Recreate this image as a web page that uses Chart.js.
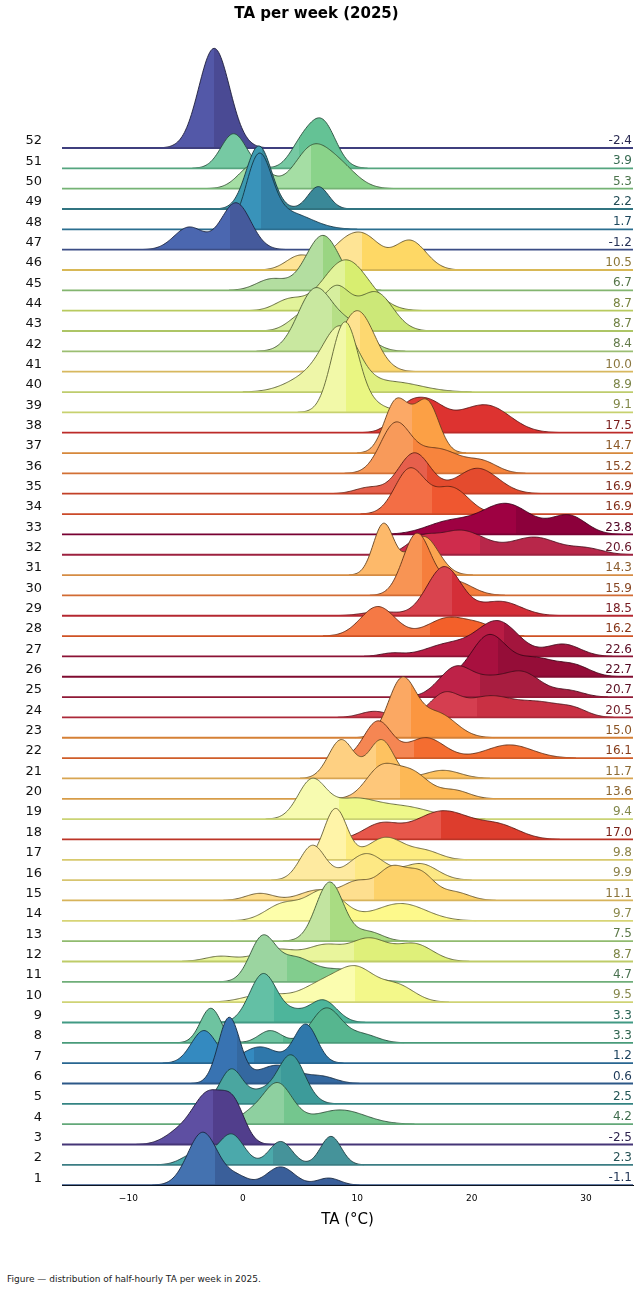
<!DOCTYPE html>
<html><head><meta charset="utf-8">
<script src="https://cdn.jsdelivr.net/npm/chart.js@4.4.1/dist/chart.umd.min.js"></script>
<style>
html,body{margin:0;padding:0;background:#fff;font-family:"DejaVu Sans",sans-serif;}
#wrap{position:relative;width:639px;height:1252px;}
#cap{position:absolute;left:7px;top:1274px;font-size:9px;color:#222;font-family:"DejaVu Sans",sans-serif;}
</style></head><body>
<div id="wrap"><canvas id="c"></canvas></div>
<div id="cap">Figure — distribution of half-hourly TA per week in 2025.</div>
<script>
// ---- data (week 1 .. 52) ----
const weeks = Array.from({length:52},(_,i)=>i+1);
const means = [-1.1,2.3,-2.5,4.2,2.5,0.6,1.2,3.3,3.3,9.5,4.7,8.7,7.5,9.7,11.1,9.9,9.8,17.0,9.4,13.6,
  11.7,16.1,15.0,20.5,20.7,22.7,22.6,16.2,18.5,15.9,14.3,20.6,23.8,16.9,16.9,15.2,14.7,17.5,9.1,8.9,
  10.0,8.4,8.7,8.7,6.7,10.5,-1.2,1.7,2.2,5.3,3.9,-2.4];
const splits = [-2.4,2.6,-2.6,3.6,3.3,-0.5,1.0,3.5,2.7,9.8,3.9,9.7,7.6,7.6,11.5,9.8,9.0,17.3,8.4,13.7,
  11.6,15.0,14.7,20.5,20.7,22.3,22.8,16.4,18.3,15.7,14.5,20.7,23.9,16.5,16.1,14.9,14.8,16.0,9.0,9.0,
  10.2,7.8,8.5,8.9,7.0,10.4,-1.1,1.6,1.7,6.0,4.9,-2.5];
// density peaks per week: [centre °C, spread °C, height in ridge rows]
const peaks = [
 [[-3.5,1.3,2.6],[3.3,1.2,0.9],[7.5,1.0,0.35],[-0.5,1.0,0.4]],
 [[-1,1.1,1.5],[3.3,1.0,1.15],[7.7,0.9,1.4],[-4,1.2,0.6]],
 [[-3.0,1.3,2.4],[-0.8,1.0,1.8],[-5.5,1.3,0.6]],
 [[3.0,1.3,2.0],[8.5,2.2,0.7],[0.5,1,0.4]],
 [[-1.0,1.0,1.7],[4.2,1.2,2.4],[1.5,1.0,0.5]],
 [[-1.2,0.95,3.2],[3,1.8,0.9],[7,1.2,0.3]],
 [[-3.4,1.1,1.6],[1.5,1.5,0.8],[5.5,1.0,1.9]],
 [[-2.8,0.9,1.7],[2.4,1.0,0.6],[7.3,1.3,1.7],[10.5,1.3,0.4]],
 [[1.8,1.2,2.4],[7,1.2,1.1],[4.5,1,0.4]],
 [[2,1.8,0.4],[7,1.8,0.9],[10,1.6,1.5],[13.5,1.5,0.8]],
 [[1.7,1.1,2.1],[4.5,1.5,1.1],[8.5,2,0.6]],
 [[-2,1.3,0.25],[3,1.8,0.6],[7.2,1.5,0.75],[11,1.6,1.1],[15,1.6,0.85]],
 [[7.6,1.2,2.9],[11,1.2,0.45]],
 [[3.5,1.5,0.8],[7.2,1.6,1.5],[13.8,2.2,0.85]],
 [[1.5,1.2,0.35],[6.5,1.5,0.5],[10,1.3,0.9],[13,1.2,1.5],[15.5,1.2,1.3],[18.5,1.3,0.4]],
 [[6.1,1.1,1.7],[10.8,1.6,1.3],[15.5,1.5,0.8]],
 [[8.1,1.0,2.5],[12.5,1.6,1.1],[16,1.3,0.4]],
 [[12,1.5,0.7],[17.5,2.5,1.4],[22.5,1.8,0.6]],
 [[6.0,1.2,1.8],[9.5,2,0.9],[14,2.5,0.6]],
 [[12,1.3,1.4],[14.7,1.5,1.3],[18.5,1.3,0.4]],
 [[8.6,1.1,1.9],[12.1,1.1,1.9],[17.5,1.5,0.4]],
 [[11.8,1.2,1.8],[16,1.6,1.0],[23.3,2.0,0.65]],
 [[13.9,1.2,2.8],[17,1.6,1.2]],
 [[17.6,1.3,1.1],[21.5,2.0,1.0],[26,2.0,0.7],[11.5,1.2,0.3],[29,1.2,0.3]],
 [[18.7,1.5,1.5],[24.3,1.7,1.25],[28.5,1.3,0.3],[21.5,1.2,0.5]],
 [[21.5,1.5,2.0],[25.5,1.8,0.9],[29,1.4,0.5]],
 [[22.3,1.8,1.7],[28,1.5,0.6],[18,2.0,0.6],[13,1,0.15]],
 [[11.8,1.5,1.45],[18,1.8,0.9],[21,1.3,0.4]],
 [[17.6,1.5,2.4],[22.5,1.8,0.7],[12,1.5,0.2]],
 [[15.2,1.2,3.0],[18.5,1.5,0.7]],
 [[12.3,0.9,2.5],[15.8,1.3,1.9]],
 [[19,2.2,1.2],[25.5,2.0,0.85],[30,1.5,0.3],[15.5,1.2,0.6]],
 [[23,2.2,1.5],[28.5,1.5,0.9],[18,2.0,0.6]],
 [[14.6,1.3,2.2],[18.2,1.5,1.3]],
 [[15.0,1.4,2.0],[20.5,1.8,1.25],[11,1.2,0.3]],
 [[13.3,1.3,2.3],[17,2,1.2],[21,1.3,0.5]],
 [[13.3,1.0,2.3],[16.2,1.0,2.3],[14.7,1,0.8]],
 [[14.5,1.3,1.3],[16.5,1.2,1.0],[21.4,2.0,1.3],[18.5,1.5,0.4]],
 [[8.9,1.15,4.3],[11,1.5,0.4]],
 [[8.6,1.5,2.8],[6.0,2.0,0.8],[13,2.5,0.5]],
 [[10.0,1.5,3.0]],
 [[6.3,1.5,3.0],[9.5,1.5,1.2]],
 [[5.5,1.3,0.9],[8.2,1.2,2.0],[11.6,1.5,1.9]],
 [[9.0,2.0,2.5],[4.0,1.2,0.5]],
 [[7.0,1.5,2.7],[2.5,1.3,0.55]],
 [[5,1.2,0.7],[9,1.5,1.3],[11,1.3,1.1],[14.6,1.4,1.45]],
 [[-0.6,1.3,2.3],[-4.7,1.3,1.1]],
 [[1.4,1.1,3.4],[4.0,2.0,0.8]],
 [[1.4,1.1,3.1],[6.6,0.9,1.1]],
 [[1.0,1.3,1.2],[6.0,1.5,1.9],[8.5,1.5,1.0]],
 [[-0.8,1.1,1.7],[5.0,1.0,0.9],[6.9,1.2,2.3]],
 [[-2.5,1.35,4.9]]
];
const xTicks = [-10,0,10,20,30];
// ---- colours ----
const lightColors = ['#4472b0','#4ba9ab','#5e4fa2','#8ed0a0','#4aa6a0','#3873b2','#348ac0','#6ec3a0','#63c0a5','#fbfdaf',
 '#9bd5a0','#e9f59c','#c2e4a0','#fdfeaa','#fedf8f','#feeaa0','#fff4a8','#e7574b','#f7fbb0','#fec77a',
 '#fed082','#f58653','#fba863','#d53e50','#be2248','#a8103f','#b81c44','#f57945','#d9434e','#f89454',
 '#fdb96a','#cf2c4c','#9e0142','#f36e45','#e65f4c','#f89a5a','#fca966','#e03e35','#f2f9a8','#eef6a8',
 '#fee290','#c9e8a0','#d6ee9e','#e2f39a','#b3dea0','#fee495','#4b67b0','#3993ba','#3d9ab0','#a5dea4','#76c9a3','#5358a8'];
const darkColors = ['#3a5f9a','#45939a','#513e8c','#74c68e','#3d9b9a','#3468a0','#2f78ab','#56b68f','#4db59b','#f3f88a',
 '#82cd8e','#dff07a','#a9dc82','#fdf98b','#fdd26a','#fde884','#fdec80','#dd3d2d','#eef88a','#fdb855',
 '#fec260','#f46d30','#fb9640','#c93043','#a81d40','#950d38','#a3153d','#f3602a','#d42e38','#f67e3c',
 '#fba550','#b8274a','#8c003b','#ef5730','#e44b2e','#f7843d','#fca045','#dd3330','#eaf682','#e0f080',
 '#fdd870','#b6df86','#cce878','#d8ee70','#9ad582','#fed865','#455a9c','#3381a8','#3a8898','#8ad38a','#64c295','#4a4a94'];
function shade(hex,f){const n=parseInt(hex.slice(1),16);let r=n>>16,g=(n>>8)&255,b=n&255;
 r=Math.round(r*f);g=Math.round(g*f);b=Math.round(b*f);return 'rgb('+r+','+g+','+b+')';}
// ---- build curves ----
const X0=-15.8, X1=34.1;
const xs=[];for(let v=X0;v<=X1+1e-9;v+=0.1)xs.push(+v.toFixed(2));
function curve(i){const base=i;return xs.map(x=>{let d=0;for(const [m,s,h] of peaks[i]){d+=h*Math.exp(-0.5*((x-m)/s)**2);}return {x,y:base+d};});}
const datasets = [];
weeks.forEach((w,i)=>{
 datasets.push({
  label:'Week '+w,
  data:curve(i),
  order:w,
  borderColor:shade(darkColors[i],0.4),
  borderWidth:0.9,
  segment:{borderColor:(c)=>(c.p0.parsed.y-i<0.01&&c.p1.parsed.y-i<0.01)?'rgba(0,0,0,0)':undefined},
  pointRadius:0,
  tension:0,
  fill:{value:i},
  backgroundColor:(ctx)=>{const ch=ctx.chart,ca=ch.chartArea;if(!ca)return lightColors[i];
    const px=ch.scales.x.getPixelForValue(splits[i]);let f=(px-ca.left)/(ca.right-ca.left);f=Math.min(Math.max(f,0.0001),0.9999);
    const g=ch.ctx.createLinearGradient(ca.left,0,ca.right,0);
    g.addColorStop(0,lightColors[i]);g.addColorStop(f,lightColors[i]);g.addColorStop(f,darkColors[i]);g.addColorStop(1,darkColors[i]);return g;}
 });
 datasets.push({
  label:'Base '+w,
  data:[{x:X0,y:i},{x:X1,y:i}],
  order:w-0.5,
  borderColor:shade(darkColors[i],0.85),
  borderWidth:1.8,
  pointRadius:0,
  fill:false
 });
});
const meanLabels={id:'meanLabels',afterDatasetsDraw(ch){const c=ch.ctx,ca=ch.chartArea,y=ch.scales.y;
  c.save();c.font='12px "DejaVu Sans"';c.textAlign='right';c.textBaseline='bottom';
  weeks.forEach((w,i)=>{c.fillStyle=shade(darkColors[i],0.55);c.fillText(means[i].toFixed(1),ca.right-1,y.getPixelForValue(i)-1);});
  c.restore();}};
new Chart(document.getElementById('c'),{
  type:'line',
  data:{datasets},
  options:{
    responsive:true,maintainAspectRatio:false,animation:false,
    layout:{padding:{top:0,right:6,bottom:23,left:0}},
    plugins:{legend:{display:false},tooltip:{enabled:false},
      title:{display:true,text:'TA per week (2025)',font:{size:15,weight:'bold',family:'DejaVu Sans'},color:'#000',padding:{top:5,bottom:6}}},
    scales:{
      x:{type:'linear',min:X0,max:X1,grid:{display:false,drawTicks:true,tickLength:5},border:{color:'#000'},
        afterBuildTicks:(s)=>{s.ticks=xTicks.map(v=>({value:v}));},
        ticks:{font:{size:9,family:'DejaVu Sans'},color:'#000',callback:(v)=>v<0?'\u2212'+Math.abs(v):String(v)},
        title:{display:true,text:'TA (°C)',font:{size:15,family:'DejaVu Sans'},color:'#000',padding:{top:4,bottom:0}}},
      y:{type:'linear',min:0,max:56.85,grid:{display:false},border:{display:false},
        afterBuildTicks:(s)=>{s.ticks=weeks.map((w,i)=>({value:i}));},
        afterFit:(s)=>{s.width=62;},
        ticks:{font:{size:13,family:'DejaVu Sans'},color:'#111',padding:12,labelOffset:-7,callback:(v)=>String(v+1)}}
    }
  },
  plugins:[meanLabels]
});
</script></body></html>
